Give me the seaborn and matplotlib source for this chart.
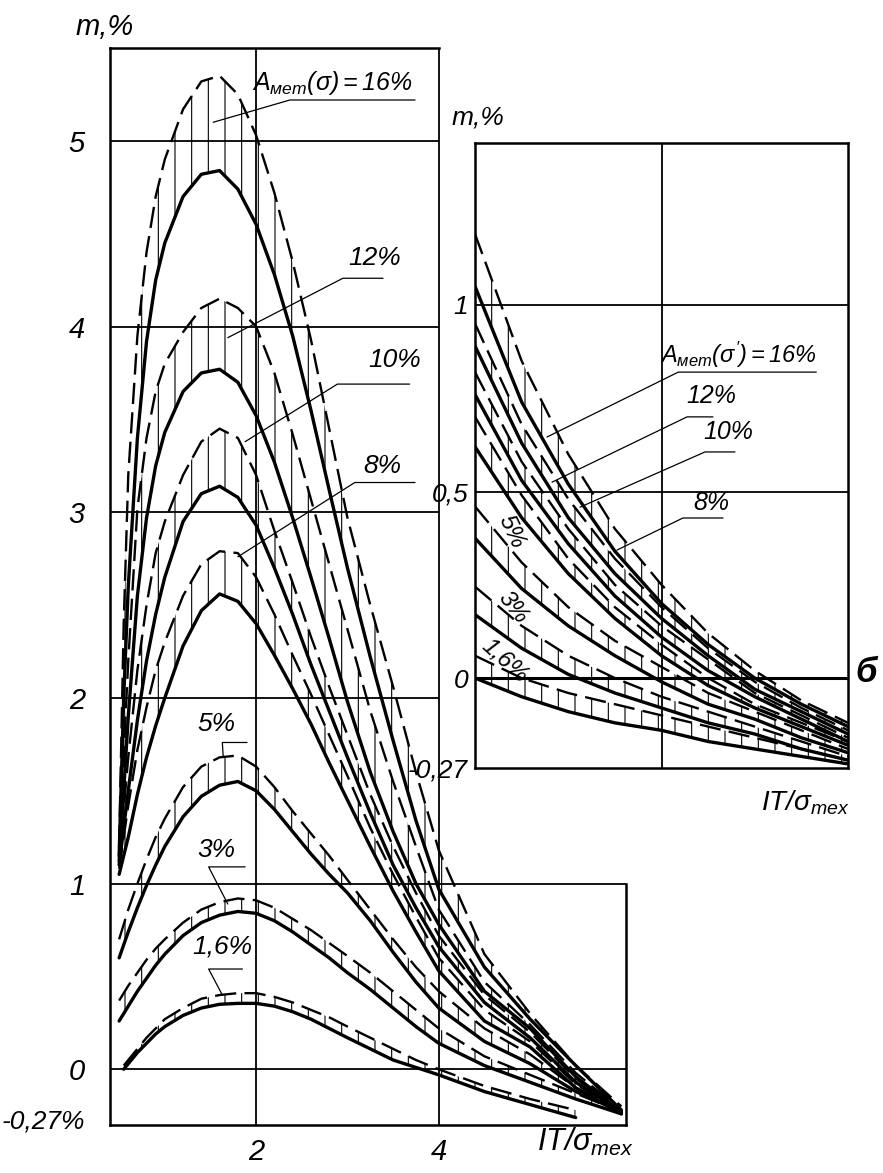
import numpy as np
import pandas as pd
import seaborn as sns
import matplotlib
matplotlib.use('Agg')
import matplotlib.pyplot as plt
from matplotlib import font_manager

nan = np.nan

# ---- left chart: m, % against IT/sigma_tex, one solid + one dashed curve per level
x_main = [0.5, 0.55, 0.6, 0.7, 0.8, 0.9, 1.0, 1.2, 1.4, 1.6, 1.8, 2.0, 2.2,
          2.4, 2.6, 2.8, 3.0, 3.25, 3.5, 3.75, 4.0, 4.5, 5.0, 5.5, 6.0]

main_16_d = [1.2, 2.4, 3.2, 3.95, 4.4, 4.7, 4.9, 5.17, 5.32, 5.35, 5.25, 5.03, 4.72,
             4.35, 3.93, 3.45, 2.97, 2.5, 2.06, 1.6, 1.18, 0.62, 0.3, 0.02, -0.2]
main_16_s = [1.15, 2.0, 2.6, 3.4, 3.92, 4.25, 4.45, 4.7, 4.82, 4.84, 4.74, 4.55, 4.28,
             3.95, 3.55, 3.12, 2.7, 2.22, 1.77, 1.34, 0.97, 0.55, 0.27, 0.02, -0.22]
main_12_d = [1.15, 1.7, 2.2, 3.02, 3.4, 3.65, 3.8, 3.97, 4.1, 4.15, 4.1, 4.0, 3.75,
             3.42, 3.07, 2.72, 2.37, 1.93, 1.55, 1.2, 0.86, 0.47, 0.24, -0.02, -0.22]
main_12_s = [1.12, 1.5, 1.9, 2.55, 2.97, 3.25, 3.43, 3.65, 3.75, 3.77, 3.7, 3.52, 3.27,
             2.97, 2.65, 2.32, 1.98, 1.6, 1.28, 1.0, 0.78, 0.42, 0.22, -0.04, -0.23]
main_10_d = [1.12, 1.4, 1.68, 2.15, 2.5, 2.78, 2.95, 3.2, 3.38, 3.45, 3.4, 3.2, 2.9,
             2.62, 2.33, 2.06, 1.8, 1.48, 1.2, 0.95, 0.72, 0.4, 0.2, -0.05, -0.23]
main_10_s = [1.1, 1.3, 1.5, 1.88, 2.2, 2.45, 2.65, 2.95, 3.1, 3.14, 3.08, 2.93, 2.7,
             2.45, 2.18, 1.93, 1.68, 1.38, 1.1, 0.87, 0.66, 0.36, 0.17, -0.07, -0.23]
main_8_d = [1.08, 1.25, 1.42, 1.72, 1.95, 2.15, 2.3, 2.55, 2.72, 2.79, 2.78, 2.65, 2.45,
            2.23, 2.02, 1.8, 1.58, 1.3, 1.05, 0.82, 0.6, 0.32, 0.15, -0.08, -0.23]
main_8_s = [1.05, 1.15, 1.25, 1.48, 1.68, 1.85, 2.0, 2.28, 2.47, 2.56, 2.52, 2.4, 2.23,
            2.05, 1.86, 1.65, 1.45, 1.2, 0.96, 0.74, 0.53, 0.26, 0.12, -0.1, -0.24]
main_5_d = [0.7, 0.78, 0.86, 1.0, 1.13, 1.25, 1.35, 1.52, 1.63, 1.68, 1.69, 1.63, 1.52,
            1.39, 1.27, 1.15, 1.02, 0.86, 0.7, 0.55, 0.42, 0.22, 0.08, -0.1, -0.22]
main_5_s = [0.6, 0.67, 0.74, 0.87, 0.99, 1.1, 1.2, 1.36, 1.47, 1.53, 1.55, 1.5, 1.4,
            1.28, 1.16, 1.05, 0.95, 0.8, 0.63, 0.47, 0.33, 0.15, 0.03, -0.12, -0.23]
main_3_d = [0.37, 0.41, 0.45, 0.52, 0.59, 0.65, 0.7, 0.79, 0.86, 0.9, 0.92, 0.91, 0.87,
            0.81, 0.75, 0.68, 0.61, 0.52, 0.42, 0.32, 0.22, 0.07, -0.03, -0.13, -0.23]
main_3_s = [0.26, 0.3, 0.34, 0.42, 0.49, 0.56, 0.62, 0.72, 0.79, 0.83, 0.85, 0.84, 0.8,
            0.74, 0.67, 0.6, 0.52, 0.43, 0.33, 0.23, 0.14, 0.02, -0.07, -0.16, -0.24]
main_16p_d = [nan, 0.02, 0.05, 0.11, 0.17, 0.22, 0.27, 0.33, 0.38, 0.4, 0.41, 0.41, 0.39,
              0.36, 0.32, 0.28, 0.23, 0.17, 0.11, 0.05, 0.0, -0.09, -0.16, -0.22, nan]
main_16p_s = [nan, 0.0, 0.03, 0.09, 0.14, 0.19, 0.23, 0.29, 0.33, 0.35, 0.355, 0.355, 0.34,
              0.31, 0.27, 0.22, 0.17, 0.11, 0.05, 0.01, -0.03, -0.12, -0.19, -0.26, nan]

# ---- right chart (б)
x_inset = [0, 0.25, 0.5, 0.75, 1.0, 1.25, 1.5, 1.75, 2.0]
ins_16_d = [1.19, 0.85, 0.6, 0.4, 0.25, 0.12, 0.02, -0.06, -0.12]
ins_16_s = [1.05, 0.74, 0.52, 0.34, 0.2, 0.09, 0.0, -0.07, -0.13]
ins_12_d = [0.95, 0.68, 0.48, 0.32, 0.19, 0.08, -0.01, -0.08, -0.14]
ins_12_s = [0.89, 0.63, 0.43, 0.28, 0.16, 0.06, -0.03, -0.09, -0.15]
ins_10_d = [0.82, 0.58, 0.4, 0.25, 0.14, 0.05, -0.04, -0.1, -0.16]
ins_10_s = [0.76, 0.53, 0.36, 0.22, 0.11, 0.02, -0.05, -0.11, -0.17]
ins_8_d = [0.7, 0.49, 0.32, 0.19, 0.09, 0.0, -0.07, -0.12, -0.17]
ins_8_s = [0.62, 0.43, 0.28, 0.16, 0.06, -0.02, -0.08, -0.13, -0.18]
ins_5_d = [0.46, 0.31, 0.19, 0.1, 0.03, -0.04, -0.09, -0.14, -0.19]
ins_5_s = [0.375, 0.24, 0.14, 0.06, -0.01, -0.07, -0.11, -0.16, -0.2]
ins_3_d = [0.245, 0.14, 0.06, 0.0, -0.05, -0.09, -0.13, -0.17, -0.21]
ins_3_s = [0.17, 0.08, 0.01, -0.04, -0.08, -0.12, -0.15, -0.19, -0.22]
ins_16p_d = [0.06, 0.0, -0.04, -0.07, -0.1, -0.13, -0.16, -0.19, -0.22]
ins_16p_s = [0.0, -0.05, -0.09, -0.12, -0.14, -0.17, -0.19, -0.21, -0.23]

levels = ['16%', '12%', '10%', '8%', '5%', '3%', '1,6%']

main_curves = dict(zip(levels, [(main_16_s, main_16_d), (main_12_s, main_12_d),
                                (main_10_s, main_10_d), (main_8_s, main_8_d),
                                (main_5_s, main_5_d), (main_3_s, main_3_d),
                                (main_16p_s, main_16p_d)]))
inset_curves = dict(zip(levels, [(ins_16_s, ins_16_d), (ins_12_s, ins_12_d),
                                 (ins_10_s, ins_10_d), (ins_8_s, ins_8_d),
                                 (ins_5_s, ins_5_d), (ins_3_s, ins_3_d),
                                 (ins_16p_s, ins_16p_d)]))

main_yticks = [-0.27, 0, 1, 2, 3, 4, 5]
main_ylabels = ['-0,27%', '0', '1', '2', '3', '4', '5']
main_xticks = [2, 4]
inset_yticks = [-0.241, 0, 0.5, 1]
inset_ylabels = ['-0,27', '0', '0,5', '1']


def pick_font():
    for name in ['Liberation Sans Narrow', 'Liberation Sans', 'DejaVu Sans']:
        try:
            font_manager.findfont(font_manager.FontProperties(family=name),
                                  fallback_to_default=False)
            return name
        except ValueError:
            pass
    return 'DejaVu Sans'


FONT = pick_font()
sns.set_style('white')
plt.rcParams['font.family'] = [FONT, 'DejaVu Sans']
plt.rcParams['font.style'] = 'italic'
plt.rcParams['text.color'] = 'black'
plt.rcParams['xtick.color'] = 'black'
plt.rcParams['ytick.color'] = 'black'
plt.rcParams['axes.labelcolor'] = 'black'
plt.rcParams['mathtext.fontset'] = 'custom'
plt.rcParams['mathtext.rm'] = FONT + ':italic'
plt.rcParams['mathtext.it'] = FONT + ':italic'
plt.rcParams['mathtext.bf'] = FONT + ':italic:bold'
plt.rcParams['hatch.linewidth'] = 0.8
plt.rcParams['hatch.color'] = 'black'


def long_frame(x, curves):
    parts = []
    for lev, (s, d) in curves.items():
        parts.append(pd.DataFrame({'x': x, 'm': s, 'level': lev, 'line': 'solid'}))
        parts.append(pd.DataFrame({'x': x, 'm': d, 'level': lev, 'line': 'dashed'}))
    return pd.concat(parts, ignore_index=True)


def draw_bands(ax, x, curves, lw_s, lw_d):
    df = long_frame(x, curves)
    for lev, (s, d) in curves.items():
        ax.fill_between(x, s, d, facecolor='none', edgecolor='black',
                        hatch='|', linewidth=0, zorder=2)
    sol = df[df.line == 'solid'].dropna()
    das = df[df.line == 'dashed'].dropna()
    sns.lineplot(data=sol, x='x', y='m', units='level', estimator=None, sort=False,
                 color='black', lw=lw_s, ax=ax, legend=False, zorder=3)
    sns.lineplot(data=das, x='x', y='m', units='level', estimator=None, sort=False,
                 color='black', lw=lw_d, ax=ax, legend=False, zorder=3,
                 linestyle=(0, (9, 3.5)), dash_capstyle='butt')
    ax.set_xlabel('')
    ax.set_ylabel('')


def leader(ax, text, txy, under_x, under_y, tip, size, ha='center'):
    ax.text(txy[0], txy[1], text, fontsize=size, ha=ha, va='center', zorder=5)
    ax.plot([tip[0], under_x[0], under_x[1]], [tip[1], under_y, under_y],
            color='black', lw=0.9, zorder=5)


fig = plt.figure(figsize=(8.83, 11.73), dpi=100)

# ---------------- left chart ----------------
ax = fig.add_axes([110 / 883, 1 - 1125 / 1173, 516 / 883, 1077 / 1173])
ax.set_xlim(0.4, 6.05)
ax.set_ylim(-0.3, 5.5)
ax.hlines([0, 1], 0.4, 6.05, color='black', lw=1.3, zorder=1)
ax.hlines([2, 3, 4, 5], 0.4, 4.0, color='black', lw=1.3, zorder=1)
ax.vlines(main_xticks, -0.3, 5.5, color='black', lw=1.3, zorder=1)
draw_bands(ax, x_main, main_curves, 2.4, 1.7)
for side in ['left', 'bottom', 'top', 'right']:
    ax.spines[side].set_visible(True)
    ax.spines[side].set_linewidth(1.8)
    ax.spines[side].set_color('black')
ax.spines['top'].set_bounds(0.4, 4.0)
ax.spines['right'].set_bounds(-0.3, 1.0)
ax.set_yticks(main_yticks, main_ylabels)
ax.set_xticks(main_xticks, ['2', '4'])
ax.tick_params(axis='y', length=0, pad=18, labelsize=21)
ax.tick_params(axis='x', length=0, pad=9, labelsize=21)
ax.get_yticklabels()[0].set_fontsize(19)
ax.set_facecolor('white')

leader(ax, r'$A_{мет}(\sigma)=16\%$', (1.96, 5.31), (2.37, 3.74), 5.22, (1.53, 5.10), 18, ha='left')
leader(ax, '12%', (3.30, 4.37), (2.95, 3.39), 4.26, (1.69, 3.94), 19)
leader(ax, '10%', (3.52, 3.82), (2.89, 3.68), 3.69, (1.88, 3.38), 19)
leader(ax, '8%', (3.38, 3.25), (3.08, 3.74), 3.16, (1.80, 2.76), 19)
leader(ax, '5%', (1.57, 1.86), (1.63, 1.90), 1.76, (1.64, 1.68), 19)
leader(ax, '3%', (1.56, 1.18), (1.48, 1.88), 1.09, (1.69, 0.89), 19)
leader(ax, '1,6%', (1.63, 0.66), (1.48, 1.85), 0.54, (1.63, 0.40), 19)

fig.text(105 / 883, 1 - 27 / 1173, 'm,%', fontsize=21, ha='center', va='center')
fig.text(585 / 883, 1 - 1142 / 1173, r'$IT/\sigma_{тех}$', fontsize=22, ha='center', va='center')

# ---------------- right chart ----------------
ax2 = fig.add_axes([475 / 883, 1 - 768 / 1173, 373 / 883, 625 / 1173])
ax2.set_xlim(0, 2)
ax2.set_ylim(-0.241, 1.434)
ax2.hlines([0.5, 1], 0, 2, color='black', lw=1.3, zorder=1)
ax2.hlines([0], 0, 2, color='black', lw=2.2, zorder=1)
ax2.vlines([1], -0.241, 1.434, color='black', lw=1.3, zorder=1)
draw_bands(ax2, x_inset, inset_curves, 2.4, 1.7)
for side in ['left', 'bottom', 'top', 'right']:
    ax2.spines[side].set_visible(True)
    ax2.spines[side].set_linewidth(1.8)
    ax2.spines[side].set_color('black')
ax2.set_yticks(inset_yticks, inset_ylabels)
ax2.set_xticks([])
ax2.tick_params(axis='y', length=0, pad=5, labelsize=19)
ax2.set_facecolor('white')

leader(ax2, r'$A_{мет}(\sigma^{\prime})=16\%$', (0.99, 0.865), (1.09, 1.83), 0.82, (0.386, 0.646), 17, ha='left')
leader(ax2, '12%', (1.27, 0.755), (1.137, 1.276), 0.70, (0.413, 0.525), 18)
leader(ax2, '10%', (1.36, 0.66), (1.233, 1.394), 0.606, (0.563, 0.458), 18)
leader(ax2, '8%', (1.27, 0.47), (1.115, 1.33), 0.429, (0.761, 0.343), 18)
ax2.text(0.198, 0.391, '5%', fontsize=17, rotation=-65, rotation_mode='anchor',
         ha='center', va='center', zorder=5)
ax2.text(0.204, 0.19, '3%', fontsize=17, rotation=-52, rotation_mode='anchor',
         ha='center', va='center', zorder=5)
ax2.text(0.16, 0.045, '1,6%', fontsize=17, rotation=-42, rotation_mode='anchor',
         ha='center', va='center', zorder=5)
ax2.text(2.10, 0.016, 'б', fontsize=25, fontweight='bold', ha='center', va='center',
         clip_on=False)

fig.text(478 / 883, 1 - 118 / 1173, 'm,%', fontsize=19, ha='center', va='center')
fig.text(805 / 883, 1 - 803 / 1173, r'$IT/\sigma_{тех}$', fontsize=20, ha='center', va='center')

fig.savefig('out.png', dpi=100, facecolor='white')
